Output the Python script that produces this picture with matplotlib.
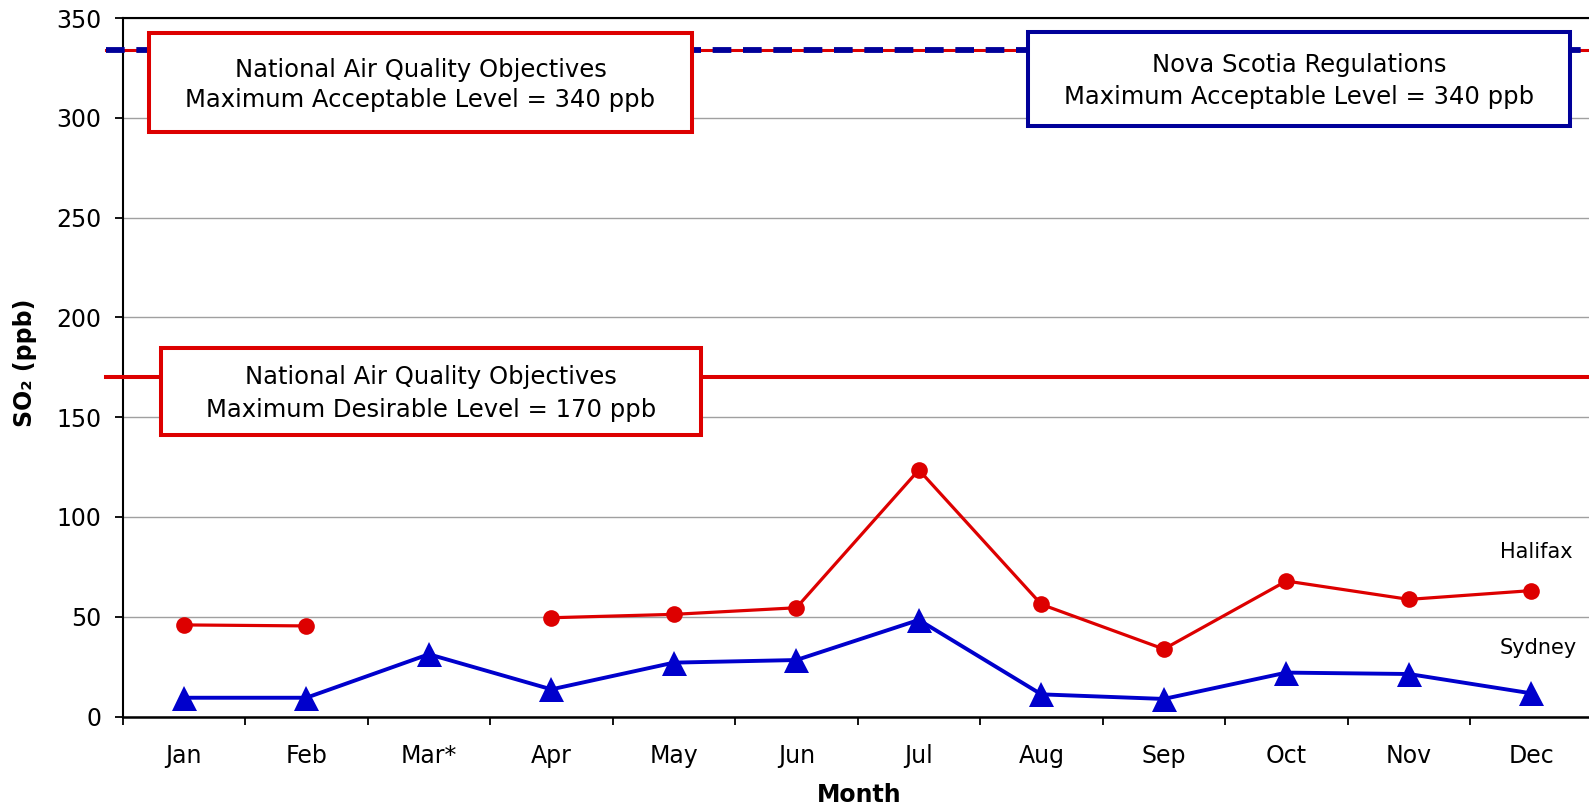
import matplotlib
matplotlib.use("Agg")
import matplotlib.pyplot as plt
import numpy as np
from matplotlib.patches import Rectangle

plt.rcParams["font.family"] = ["DejaVu Sans"]

# monthly SO2 maxima (ppb); March missing for Halifax
months = ["Jan", "Feb", "Mar*", "Apr", "May", "Jun", "Jul", "Aug", "Sep", "Oct", "Nov", "Dec"]
halifax = [45.9, 45.4, np.nan, 49.5, 51.2, 54.5, 123.6, 56.2, 33.8, 67.9, 58.7, 63.1]
sydney = [9.4, 9.4, 31.2, 13.6, 27.0, 28.3, 48.4, 11.1, 8.8, 22.0, 21.3, 11.6]

# objective lines as drawn in the picture
acceptable_level = 334
desirable_level = 170

RED = "#dd0000"
BLUE = "#0000cc"
NAVY = "#000099"
W, H = 1589, 807


def fx(x):
    return x / W


def fy(y):
    return 1 - y / H


fig = plt.figure(figsize=(W / 100, H / 100), dpi=100)
fig.patch.set_facecolor("white")
ax = fig.add_axes([fx(122.6), fy(716.5), (1592.6 - 122.6) / W, (716.5 - 18.2) / H])

x = np.arange(len(months))
ax.plot(x, halifax, "-o", color=RED, lw=2.3, ms=12, mew=0, zorder=4, clip_on=False)
ax.plot(x, sydney, "-^", color=BLUE, lw=2.8, ms=18, mew=0, zorder=4, clip_on=False)

# threshold lines (start a little left of the y axis, like the original)
x0 = -(122.6 - 106) / 1470
yt = ax.get_yaxis_transform()
ax.plot([x0, 1], [acceptable_level] * 2, color=RED, lw=2.2, transform=yt, clip_on=False, zorder=3)
ax.plot([x0, 1], [acceptable_level] * 2, color=NAVY, lw=4.2, ls=(0, (3.2, 2.0)),
        transform=yt, clip_on=False, zorder=3)
ax.plot([x0, 1], [desirable_level] * 2, color=RED, lw=2.9, transform=yt, clip_on=False, zorder=3)

ax.text(10.74, 82.5, "Halifax", fontsize=15, ha="left", va="center")
ax.text(10.74, 34.3, "Sydney", fontsize=15, ha="left", va="center")

ax.set_xlim(-0.5, 11.5)
ax.set_ylim(0, 350)
ax.set_yticks(range(0, 351, 50))
ax.set_xticks(np.arange(-0.5, 12.0, 1.0))
ax.set_xticklabels([])
ax.set_xticks(x, minor=True)
ax.set_xticklabels(months, minor=True)
ax.tick_params(axis="x", which="major", length=5.5, width=1.3, direction="out")
ax.tick_params(axis="x", which="minor", length=0, pad=20, labelsize=17)
ax.tick_params(axis="y", length=5.5, width=1.3, pad=10, labelsize=17)

ax.yaxis.grid(True, color="#a0a0a0", lw=1.0)
ax.set_axisbelow(True)
ax.spines["right"].set_visible(False)
ax.spines["top"].set_linewidth(1.5)
ax.spines["left"].set_linewidth(1.5)
ax.spines["bottom"].set_linewidth(1.8)

fig.text(fx(859.5), fy(795), "Month", fontsize=17, fontweight="bold", ha="center", va="center")
fig.text(fx(25), fy(363), "SO₂ (ppb)", fontsize=17, fontweight="bold", rotation=90,
         ha="center", va="center")

# annotation boxes: (left, top, right, bottom) in pixels, edge colour, two text lines
boxes = [
    ((149, 33, 692, 132), RED, 70, 100,
     "National Air Quality Objectives", "Maximum Acceptable Level = 340 ppb"),
    ((1027.5, 32, 1570, 126), NAVY, 65, 97,
     "Nova Scotia Regulations", "Maximum Acceptable Level = 340 ppb"),
    ((161, 348, 701, 435), RED, 377, 410,
     "National Air Quality Objectives", "Maximum Desirable Level = 170 ppb"),
]
for (l, t, r, b), col, y1, y2, line1, line2 in boxes:
    fig.add_artist(Rectangle((fx(l), fy(b)), (r - l) / W, (b - t) / H, transform=fig.transFigure,
                             fc="white", ec=col, lw=2.9, zorder=5))
    cx = fx((l + r) / 2)
    fig.text(cx, fy(y1), line1, fontsize=17.5, ha="center", va="center", zorder=6)
    fig.text(cx, fy(y2), line2, fontsize=17.5, ha="center", va="center", zorder=6)

fig.savefig("out.png", dpi=100, facecolor="white")
